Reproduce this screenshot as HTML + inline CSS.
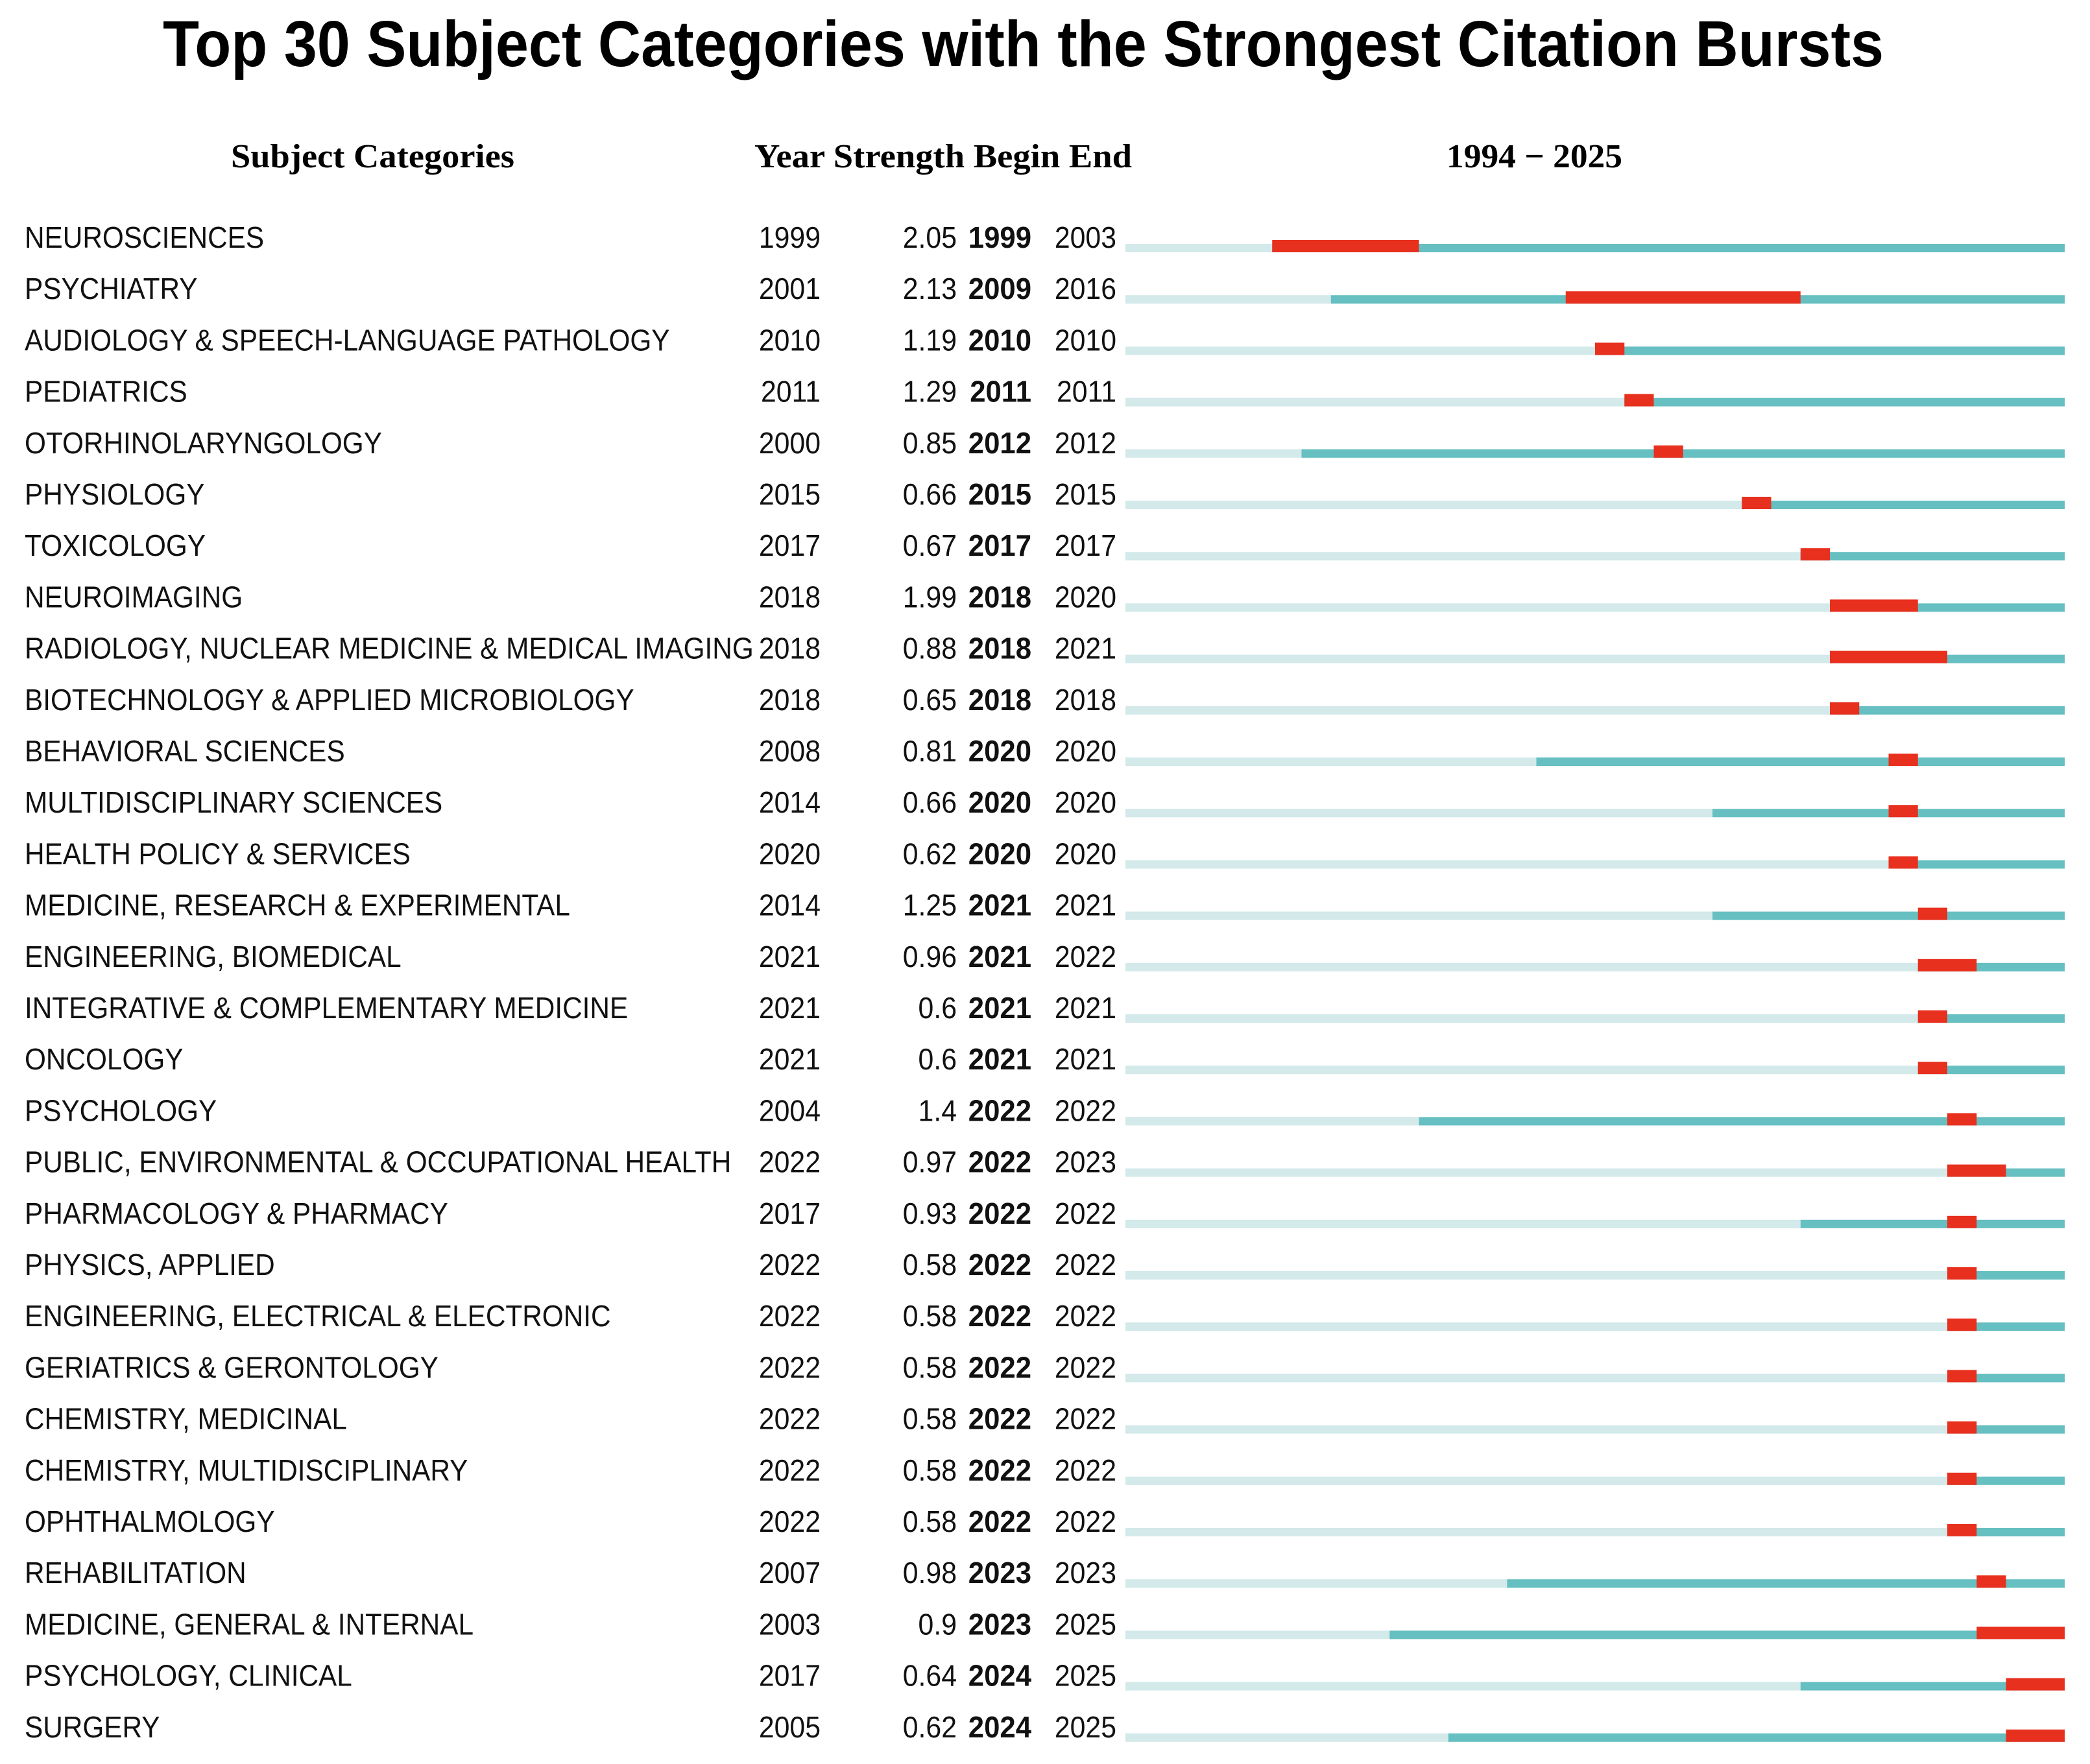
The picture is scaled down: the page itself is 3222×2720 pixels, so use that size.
<!DOCTYPE html>
<html><head><meta charset="utf-8">
<style>
html,body{margin:0;padding:0;background:#fff;}
svg{display:block;}
</style></head>
<body>
<svg id="chart" width="3222" height="2720" viewBox="0 0 3222 2720" xmlns="http://www.w3.org/2000/svg">
<rect width="3222" height="2720" fill="#fff"/>
<text x="251" y="102" font-family="Liberation Sans, sans-serif" font-weight="bold" font-size="100" textLength="2653" lengthAdjust="spacingAndGlyphs" fill="#000">Top 30 Subject Categories with the Strongest Citation Bursts</text>
<text x="356" y="258" font-family="Liberation Serif, serif" font-weight="bold" font-size="52" textLength="437" lengthAdjust="spacingAndGlyphs">Subject Categories</text>
<text x="1163" y="258" font-family="Liberation Serif, serif" font-weight="bold" font-size="52" textLength="582" lengthAdjust="spacingAndGlyphs">Year Strength Begin End</text>
<text x="2230" y="258" font-family="Liberation Serif, serif" font-weight="bold" font-size="52" textLength="271" lengthAdjust="spacingAndGlyphs">1994 − 2025</text>
<g id="rows"></g>
</svg>
<script>
const categories = ["NEUROSCIENCES","PSYCHIATRY","AUDIOLOGY & SPEECH-LANGUAGE PATHOLOGY","PEDIATRICS","OTORHINOLARYNGOLOGY","PHYSIOLOGY","TOXICOLOGY","NEUROIMAGING","RADIOLOGY, NUCLEAR MEDICINE & MEDICAL IMAGING","BIOTECHNOLOGY & APPLIED MICROBIOLOGY","BEHAVIORAL SCIENCES","MULTIDISCIPLINARY SCIENCES","HEALTH POLICY & SERVICES","MEDICINE, RESEARCH & EXPERIMENTAL","ENGINEERING, BIOMEDICAL","INTEGRATIVE & COMPLEMENTARY MEDICINE","ONCOLOGY","PSYCHOLOGY","PUBLIC, ENVIRONMENTAL & OCCUPATIONAL HEALTH","PHARMACOLOGY & PHARMACY","PHYSICS, APPLIED","ENGINEERING, ELECTRICAL & ELECTRONIC","GERIATRICS & GERONTOLOGY","CHEMISTRY, MEDICINAL","CHEMISTRY, MULTIDISCIPLINARY","OPHTHALMOLOGY","REHABILITATION","MEDICINE, GENERAL & INTERNAL","PSYCHOLOGY, CLINICAL","SURGERY"];
const firstYears = [1999,2001,2010,2011,2000,2015,2017,2018,2018,2018,2008,2014,2020,2014,2021,2021,2021,2004,2022,2017,2022,2022,2022,2022,2022,2022,2007,2003,2017,2005];
const strengths = ["2.05","2.13","1.19","1.29","0.85","0.66","0.67","1.99","0.88","0.65","0.81","0.66","0.62","1.25","0.96","0.6","0.6","1.4","0.97","0.93","0.58","0.58","0.58","0.58","0.58","0.58","0.98","0.9","0.64","0.62"];
const beginYears = [1999,2009,2010,2011,2012,2015,2017,2018,2018,2018,2020,2020,2020,2021,2021,2021,2021,2022,2022,2022,2022,2022,2022,2022,2022,2022,2023,2023,2024,2024];
const endYears = [2003,2016,2010,2011,2012,2015,2017,2020,2021,2018,2020,2020,2020,2021,2022,2021,2021,2022,2023,2022,2022,2022,2022,2022,2022,2022,2023,2025,2025,2025];
const yearMin = 1994, yearMax = 2025;

const NS = "http://www.w3.org/2000/svg";
const g = document.getElementById("rows");
const x0 = 1735, x1 = 3183;
const yw = (x1 - x0) / (yearMax - yearMin + 1);
function xs(year){ return x0 + (year - yearMin) * yw; }
function rowY(i){ return 366 + i * 79.2; }

function txt(x, y, s, opts){
  const t = document.createElementNS(NS, "text");
  t.setAttribute("transform", "translate(" + x + "," + y + ") scale(" + opts.sx + ",1)");
  t.setAttribute("font-family", "Liberation Sans, sans-serif");
  t.setAttribute("font-size", opts.fs);
  if (opts.bold) t.setAttribute("font-weight", "bold");
  if (opts.anchor) t.setAttribute("text-anchor", opts.anchor);
  t.setAttribute("fill", "#111");
  t.textContent = s;
  g.appendChild(t);
  return t;
}
function rect(x, y, w, h, fill){
  const r = document.createElementNS(NS, "rect");
  r.setAttribute("x", x); r.setAttribute("y", y);
  r.setAttribute("width", w); r.setAttribute("height", h);
  r.setAttribute("fill", fill);
  g.appendChild(r);
  return r;
}

categories.forEach((c, i) => {
  const cy = rowY(i);
  const base = cy + 16;
  const bottom = cy + 23;
  let t;
  t = txt(38, base, c, {fs:46, sx:0.92});
  
  
  t = txt(1265, base, String(firstYears[i]), {fs:46, sx:0.93, anchor:"end"});
  
  
  t = txt(1475, base, strengths[i], {fs:46, sx:0.93, anchor:"end"});
  
  
  t = txt(1590, base, String(beginYears[i]), {fs:46, sx:0.95, anchor:"end", bold:true});
  
  
  t = txt(1721, base, String(endYears[i]), {fs:46, sx:0.93, anchor:"end"});
  
  

  let r;
  r = rect(xs(yearMin), bottom - 13, xs(firstYears[i]) - xs(yearMin), 13, "#d3e9ea");
  
  
  r = rect(xs(firstYears[i]), bottom - 13, xs(yearMax + 1) - xs(firstYears[i]), 13, "#66bfc1");
  
  
  r = rect(xs(beginYears[i]), bottom - 19, xs(endYears[i] + 1) - xs(beginYears[i]), 19, "#e8301f");
  
  
});
</script>
</body></html>
